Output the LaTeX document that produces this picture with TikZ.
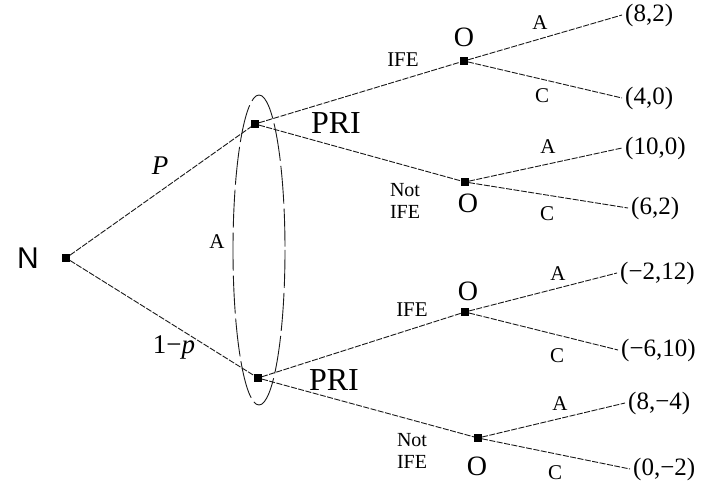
\documentclass[tikz,border=0pt]{standalone}
\usepackage{fontspec}
\setmainfont{Liberation Serif}
\newfontfamily\sansf{Liberation Sans}
\begin{document}
\begin{tikzpicture}[x=1pt,y=-1pt,
  sq/.style={fill=black,minimum size=8pt,inner sep=0pt,outer sep=0pt},
  edge/.style={draw=black!90,line width=0.9pt,dash pattern=on 6pt off 1.5pt},
  pay/.style={anchor=west,inner sep=3pt,font=\fontsize{25}{27}\selectfont},
  lab/.style={inner sep=0pt,font=\fontsize{21}{23}\selectfont},
  olab/.style={inner sep=0pt,font=\fontsize{28}{30}\selectfont},
  big/.style={inner sep=0pt,font=\fontsize{32}{34}\selectfont}]
\useasboundingbox (0,0) rectangle (702,486);
\fill[white] (0,0) rectangle (702,486);
% decision nodes
\node[sq] (n) at (66,258) {};
\node[sq] (p1) at (255,124) {};
\node[sq] (p2) at (258,378) {};
\node[sq] (o1) at (464,61) {};
\node[sq] (o2) at (465,182) {};
\node[sq] (o3) at (465,312) {};
\node[sq] (o4) at (478,438) {};
% payoffs
\node[pay] (t1) at (622,15) {(8,2)};
\node[pay] (t2) at (622,98) {(4,0)};
\node[pay] (t3) at (622,148) {(10,0)};
\node[pay] (t4) at (628,208) {(6,2)};
\node[pay] (t5) at (617,273) {(−2,12)};
\node[pay] (t6) at (618,350) {(−6,10)};
\node[pay] (t7) at (625,403) {(8,−4)};
\node[pay] (t8) at (630,469) {(0,−2)};
% edges
\draw[edge] (n) -- (p1);
\draw[edge] (n) -- (p2);
\draw[edge] (p1) -- (o1);
\draw[edge] (p1) -- (o2);
\draw[edge] (p2) -- (o3);
\draw[edge] (p2) -- (o4);
\draw[edge] (o1) -- (t1.west);
\draw[edge] (o1) -- (t2.west);
\draw[edge] (o2) -- (t3.west);
\draw[edge] (o2) -- (t4.west);
\draw[edge] (o3) -- (t5.west);
\draw[edge] (o3) -- (t6.west);
\draw[edge] (o4) -- (t7.west);
\draw[edge] (o4) -- (t8.west);
% information set
\draw[black!90,line width=0.9pt,dash pattern=on 38pt off 5pt] (259,250) ellipse [x radius=26, y radius=155];
% labels
\node[inner sep=0pt,font=\sansf\fontsize{30}{32}\selectfont] (nl) at (28,258) {N};
\node[lab] (ia) at (217,242) {A};
\node[inner sep=0pt,font=\fontsize{27}{29}\selectfont\itshape] (pl) at (160,166) {P};
\node[inner sep=0pt,font=\fontsize{27}{29}\selectfont] (ql) at (174,347) {1−\textit{p}};
\node[big] (pri1) at (336,123) {PRI};
\node[big] (pri2) at (334,380) {PRI};
\node[olab] (ol1) at (464,37) {O};
\node[olab] (ol2) at (468,203) {O};
\node[olab] (ol3) at (468,291) {O};
\node[olab] (ol4) at (477,466) {O};
\node[lab] (i1) at (403,60) {IFE};
\node[lab,align=center,font=\fontsize{20}{22}\selectfont] (i2) at (405,201) {Not\\IFE};
\node[lab] (i3) at (412,310) {IFE};
\node[lab,align=center,font=\fontsize{20}{22}\selectfont] (i4) at (412,451) {Not\\IFE};
\node[lab] (a1) at (540,23) {A};
\node[lab] (c1) at (542,96) {C};
\node[lab] (a2) at (548,147) {A};
\node[lab] (c2) at (547,214) {C};
\node[lab] (a3) at (558,274) {A};
\node[lab] (c3) at (557,356) {C};
\node[lab] (a4) at (560,404) {A};
\node[lab] (c4) at (555,473) {C};
\end{tikzpicture}
\end{document}
